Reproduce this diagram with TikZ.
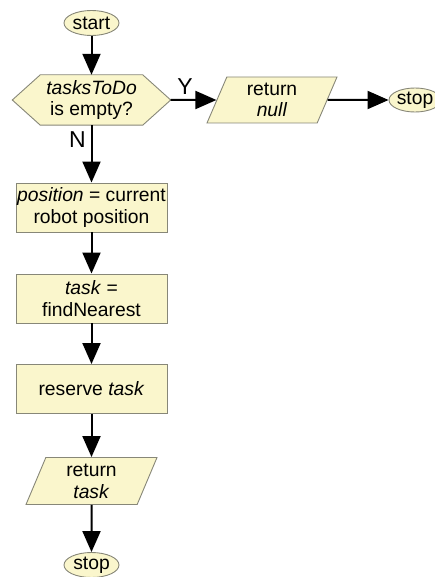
\documentclass[tikz,border=0pt]{standalone}
\usepackage{fontspec}
\setmainfont{Liberation Sans}
\usetikzlibrary{shapes.geometric,arrows.meta,backgrounds}

\definecolor{boxfill}{RGB}{250,246,204}
\definecolor{boxline}{RGB}{135,135,120}

\begin{document}
\begin{tikzpicture}[x=1pt,y=-1pt,
  font=\fontsize{19.3}{21.7}\selectfont,
  base/.style={draw=boxline, fill=boxfill, line width=0.9pt, inner sep=0pt, align=center},
  term/.style={base, ellipse, minimum width=55pt, minimum height=25pt},
  proc/.style={base, rectangle, minimum width=151pt, minimum height=49pt},
  io/.style={base, trapezium, trapezium stretches body,
    trapezium left angle=60, trapezium right angle=120,
    minimum height=47pt, minimum width=131pt},
  flow/.style={line width=2pt, -{Triangle[length=21pt,width=18pt]}},
  lbl/.style={font=\fontsize{23}{23}\selectfont, inner sep=0pt}
]
\useasboundingbox (0,0) rectangle (435,577);

% main column
\node[term] (start) at (91.5,23) {start};
\node[minimum width=158pt, minimum height=50pt, inner sep=0pt, align=center]
  (dec) at (91.5,100) {\textit{tasksToDo}\\is empty?};
\node[proc] (pos) at (91.5,207.5) {\textit{position} = current\\robot position};
\node[proc] (find) at (91.5,298.5) {\textit{task} =\\findNearest};
\node[proc] (res) at (91.5,389) {reserve \textit{task}};
\node[io] (rtask) at (91.5,481) {return\\\textit{task}};
\node[term] (stopA) at (91.5,565) {stop};

% empty branch
\node[io, minimum height=46pt, minimum width=130pt] (rnull) at (272,100) {return\\\textit{null}};
\node[term, minimum width=52pt, minimum height=24pt] (stopB) at (415,100) {stop};

% decision hexagon behind its text
\begin{scope}[on background layer]
  \draw[base] (dec.west) -- ([xshift=28pt]dec.north west) -- ([xshift=-28pt]dec.north east)
    -- (dec.east) -- ([xshift=-28pt]dec.south east) -- ([xshift=28pt]dec.south west) -- cycle;
\end{scope}

% connectors
\draw[flow] (start) -- (dec.north);
\draw[flow] (dec.east) -- (rnull);
\draw[flow] (rnull) -- (stopB);
\draw[flow] (dec.south) -- (pos.north);
\draw[flow] (pos) -- (find);
\draw[flow] (find) -- (res);
\draw[flow] (res) -- (rtask);
\draw[flow] (rtask) -- (stopA);

% branch labels
\node[lbl] (ylbl) at (185,87) {Y};
\node[lbl] (nlbl) at (77.5,140) {N};
\end{tikzpicture}
\end{document}
